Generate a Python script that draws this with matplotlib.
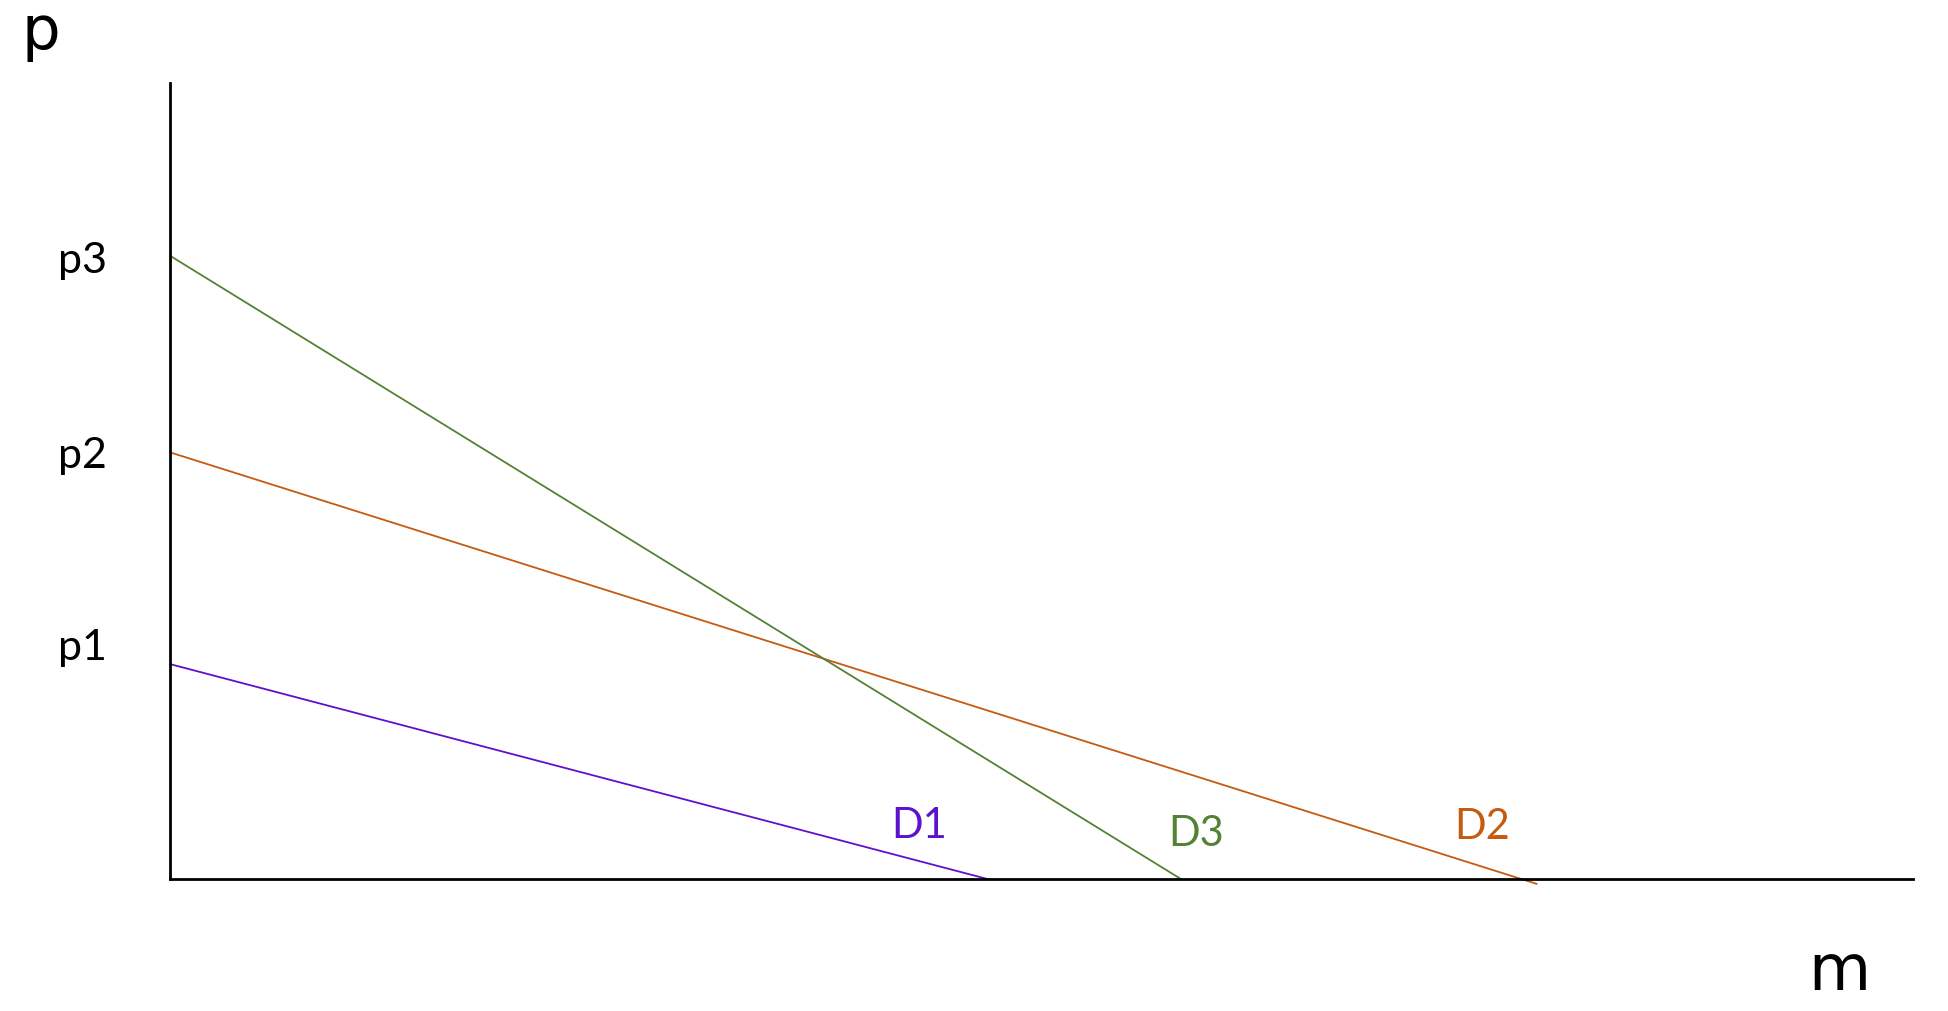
import matplotlib.pyplot as plt

# demand curves: price intercept and quantity intercept
curves = ["D1", "D2", "D3"]
p_intercepts = [2.70, 5.36, 7.83]
m_ends = [4.69, 7.84, 5.80]
p_ends = [0.0, -0.06, 0.0]
colors = ["#5E12CC", "#C55A11", "#548235"]
price_labels = ["p1", "p2", "p3"]

fig = plt.figure(figsize=(19.48, 10.12), dpi=100)
ax = fig.add_axes([0.0873, 0.1304, 0.8947, 0.7866])
ax.set_xlim(0, 10)
ax.set_ylim(0, 10)

for name, p0, m1, p1, c in zip(curves, p_intercepts, m_ends, p_ends, colors):
    ax.plot([0, m1], [p0, p1], color=c, lw=1.3, clip_on=False)

# curve labels
label_pos = {"D1": (4.30, 0.68), "D2": (7.53, 0.66), "D3": (5.89, 0.58)}
for name, c in zip(curves, colors):
    x, y = label_pos[name]
    ax.text(x, y, name, color=c, fontsize=30, family="Lato",
            ha="center", va="center")

# price labels on the left
offsets = [0.21, -0.03, -0.05]
for lab, p0, off in zip(price_labels, p_intercepts, offsets):
    ax.text(-0.36, p0 + off, lab, fontsize=31, family="Lato",
            ha="right", va="center")

ax.spines["top"].set_visible(False)
ax.spines["right"].set_visible(False)
ax.spines["left"].set_linewidth(2.0)
ax.spines["bottom"].set_linewidth(2.0)
ax.set_xticks([])
ax.set_yticks([])

fig.text(41 / 1948, 1 - 32 / 1012, "p", fontsize=44, ha="center", va="center")
fig.text(1839 / 1948, 1 - 972 / 1012, "m", fontsize=46, ha="center", va="center")

fig.savefig("out.png")
